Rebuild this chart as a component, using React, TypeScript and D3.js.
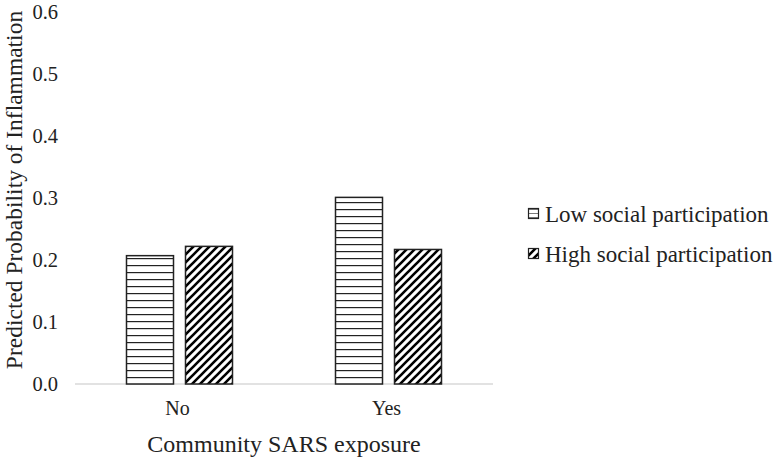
import React from 'react';
import * as d3 from 'd3';

const categories = ['No', 'Yes'];
const seriesNames = ['Low social participation', 'High social participation'];
const lowValues = [0.207, 0.301];
const highValues = [0.222, 0.217];
const yTicks = [0, 0.1, 0.2, 0.3, 0.4, 0.5, 0.6];

const W = 776;
const H = 464;
const FONT = '"Liberation Serif", "Times New Roman", serif';

export default function App() {
  const x = d3.scaleBand().domain(categories).range([75, 493]);
  const y = d3.scaleLinear().domain([0, 0.6]).range([384, 12]);
  const barW = 47;
  const gap = 12;
  const patterns = ['hlines', 'diag'];
  const series = [lowValues, highValues];

  return (
    <svg width={W} height={H} style={{ position: 'absolute', left: 0, top: 0, background: '#fff' }}>
      <defs>
        <pattern id="hlines" width="8" height="7" patternUnits="userSpaceOnUse" y={y(0)}>
          <rect width="8" height="7" fill="#fff" />
          <line x1="0" x2="8" y1="0.5" y2="0.5" stroke="#222" strokeWidth="1.4" />
        </pattern>
        <pattern id="diag" width="8" height="8" patternUnits="userSpaceOnUse">
          <rect width="8" height="8" fill="#fff" />
          <path d="M-2,2 L2,-2 M0,8 L8,0 M6,10 L10,6" stroke="#000" strokeWidth="2.6" />
        </pattern>
        <pattern id="hlinesSmall" width="10" height="4" patternUnits="userSpaceOnUse" y={1}>
          <rect width="10" height="4" fill="#fff" />
          <line x1="0" x2="10" y1="0" y2="0" stroke="#222" strokeWidth="1.2" />
        </pattern>
      </defs>

      {yTicks.map((t) => (
        <text key={t} x={58} y={y(t)} dy="0.35em" textAnchor="end" fontFamily={FONT} fontSize={20.5} fill="#222">
          {t.toFixed(1)}
        </text>
      ))}

      <line x1={75} x2={493} y1={y(0)} y2={y(0)} stroke="#d9d9d9" strokeWidth={1.5} />

      {categories.map((c, i) => {
        const cx = (x(c) as number) + x.bandwidth() / 2;
        return (
          <g key={c}>
            {series.map((vals, s) => {
              const bx = cx - gap / 2 - barW + s * (barW + gap);
              return (
                <rect
                  key={s}
                  x={bx}
                  y={y(vals[i])}
                  width={barW}
                  height={y(0) - y(vals[i])}
                  fill={`url(#${patterns[s]})`}
                  stroke="#222"
                  strokeWidth={1.5}
                />
              );
            })}
            <text x={cx - 2} y={415} textAnchor="middle" fontFamily={FONT} fontSize={20} fill="#222">
              {c}
            </text>
          </g>
        );
      })}

      <text x={284} y={452} textAnchor="middle" fontFamily={FONT} fontSize={24} fill="#222">
        Community SARS exposure
      </text>

      <text
        transform={`translate(22,${190}) rotate(-90)`}
        textAnchor="middle"
        fontFamily={FONT}
        fontSize={23.5}
        fill="#222"
      >
        Predicted Probability of Inflammation
      </text>

      {seriesNames.map((name, s) => (
        <g key={name} transform={`translate(528,${208 + s * 40})`}>
          <rect x={0.5} y={0.5} width={10} height={10} fill={`url(#${s === 0 ? 'hlinesSmall' : patterns[s]})`} stroke="#222" strokeWidth={1.2} />
          <text x={17} y={14} fontFamily={FONT} fontSize={23} fill="#222">
            {name}
          </text>
        </g>
      ))}
    </svg>
  );
}
